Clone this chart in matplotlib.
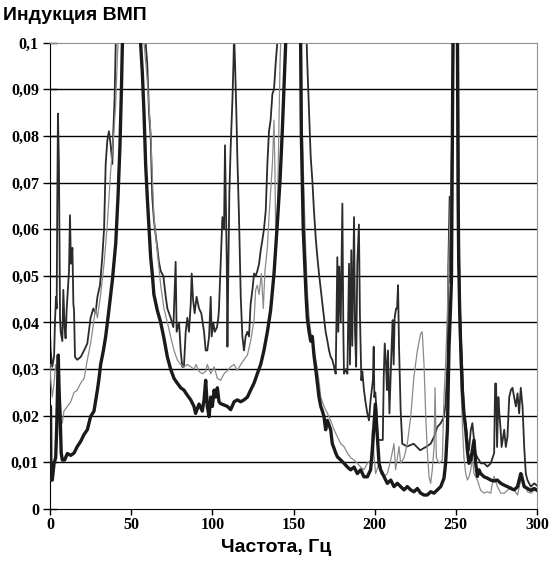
import matplotlib
matplotlib.use("Agg")
import matplotlib.pyplot as plt

# Frequency axis (Hz) and induction values.
# Peaks that leave the plot are given a value above the 0.1 limit.
thin_f = [0, 0.4, 1.4, 2.5, 3.1, 3.7, 4.1, 4.5, 4.9, 5.5, 6.2, 6.6, 7.6, 8.2, 9.0, 9.6,
          10.3, 11.1, 11.7, 12.3, 12.9, 13.8, 14.4, 14.8, 15.4, 16.8, 18.9, 21.0, 23.0,
          25.0, 26.7, 28.1, 29.2, 30.8, 32.2, 33.3, 34.3, 35.3, 36.3, 37.4, 38.4, 39.0,
          39.8, 40.5, 50.0, 58.9, 59.9, 61.0, 62.0, 63.0, 64.0, 65.0, 66.1, 67.1, 68.2,
          69.8, 71.3, 72.3, 74.3, 76.0, 77.4, 78.0, 79.5, 80.5, 81.5, 82.5, 83.6, 84.6,
          85.6, 86.7, 87.3, 88.1, 89.1, 90.3, 91.8, 93.2, 94.9, 95.9, 96.9, 98.0, 99.0,
          99.6, 100.6, 101.5, 102.9, 103.7, 104.1, 105.1, 106.2, 107.2, 107.8, 108.5,
          108.9, 109.3, 109.9, 110.5, 111.3, 112.4, 113.0, 113.4, 114.0, 114.8, 115.4,
          116.4, 117.5, 118.5, 119.5, 120.5, 121.6, 122.6, 123.6, 124.7, 125.7, 126.7,
          127.7, 128.8, 129.8, 130.8, 131.8, 132.9, 133.9, 134.9, 135.9, 137.0, 138.0,
          139.0, 140.0, 150.0, 158.1, 158.5, 159.6, 160.6, 161.6, 162.6, 163.7, 164.7,
          165.7, 166.8, 167.8, 168.8, 169.8, 170.9, 171.9, 172.9, 173.9, 175.0, 176.0,
          177.0, 177.6, 178.2, 179.1, 180.1, 180.7, 181.1, 182.2, 183.2, 184.2, 184.8,
          185.6, 186.2, 187.3, 187.9, 188.6, 189.3, 190.3, 190.9, 191.8, 192.4, 193.4,
          194.5, 195.5, 196.5, 197.5, 198.9, 199.4, 199.8, 200.4, 201.2, 201.8, 203.7,
          205.0, 205.6, 206.2, 207.0, 207.6, 208.2, 209.1, 209.9, 210.5, 211.1, 211.7,
          212.3, 213.2, 213.8, 214.4, 215.0, 216.0, 217.0, 220.0, 224.0, 228.0, 232.0,
          234.5, 236.6, 238.6, 240.7, 242.7, 243.7, 244.8, 245.4, 246.2, 246.8, 247.4,
          248.5, 249.5, 251.4, 251.8, 252.4, 253.0, 254.0, 255.0, 256.1, 257.1, 258.1,
          259.2, 260.2, 261.2, 262.2, 263.3, 264.3, 265.3, 267.4, 269.5, 271.5, 273.6,
          274.2, 274.8, 275.4, 276.2, 276.8, 277.6, 278.2, 279.8, 280.8, 281.8, 282.9,
          283.9, 284.9, 285.9, 287.0, 288.0, 289.0, 290.0, 291.1, 292.1, 293.1, 294.1,
          296.2, 298.3, 300.0]
thin_v = [0.038, 0.034, 0.0305, 0.0326, 0.0405, 0.0455, 0.043, 0.067, 0.0848, 0.074,
          0.0405, 0.038, 0.036, 0.047, 0.039, 0.0366, 0.043, 0.0476, 0.051, 0.063, 0.0526,
          0.056, 0.044, 0.0426, 0.0326, 0.032, 0.0326, 0.034, 0.0355, 0.041, 0.043, 0.042,
          0.0455, 0.048, 0.054, 0.06, 0.074, 0.079, 0.081, 0.078, 0.074, 0.081, 0.088,
          0.1, 0.15, 0.1, 0.0955, 0.085, 0.08, 0.067, 0.062, 0.059, 0.056, 0.053, 0.051,
          0.05, 0.0455, 0.043, 0.041, 0.039, 0.053, 0.038, 0.040, 0.034, 0.0305, 0.0305,
          0.038, 0.041, 0.038, 0.044, 0.0505, 0.045, 0.042, 0.0455, 0.043, 0.042, 0.038,
          0.034, 0.034, 0.037, 0.0455, 0.037, 0.040, 0.038, 0.039, 0.041, 0.043, 0.0526,
          0.0626, 0.06, 0.078, 0.0626, 0.0526, 0.0348, 0.0526, 0.068, 0.0776, 0.088,
          0.0955, 0.102, 0.0955, 0.085, 0.0755, 0.063, 0.0455, 0.037, 0.034, 0.037, 0.038,
          0.037, 0.044, 0.047, 0.0505, 0.050, 0.051, 0.0526, 0.0555, 0.0576, 0.06, 0.064,
          0.074, 0.081, 0.0834, 0.089, 0.09, 0.0955, 0.1, 0.15, 0.1, 0.0955, 0.085, 0.0755,
          0.0705, 0.064, 0.058, 0.054, 0.0505, 0.047, 0.044, 0.041, 0.038, 0.036, 0.034,
          0.0326, 0.032, 0.0305, 0.029, 0.054, 0.038, 0.052, 0.040, 0.0655, 0.038, 0.029,
          0.030, 0.029, 0.0526, 0.031, 0.0555, 0.035, 0.0626, 0.038, 0.0305, 0.0526, 0.061,
          0.042, 0.0276, 0.0295, 0.0255, 0.0226, 0.0205, 0.019, 0.0234, 0.0276, 0.0348,
          0.024, 0.025, 0.021, 0.0148, 0.0148, 0.0148, 0.0284, 0.0355, 0.031, 0.0255,
          0.034, 0.0205, 0.029, 0.0355, 0.0405, 0.031, 0.041, 0.043, 0.043, 0.048, 0.035,
          0.0212, 0.014, 0.0134, 0.014, 0.0126, 0.0134, 0.014, 0.0155, 0.0176, 0.0184,
          0.0198, 0.0226, 0.031, 0.0526, 0.067, 0.0484, 0.074, 0.1, 0.15, 0.1, 0.06,
          0.0455, 0.038, 0.0297, 0.0205, 0.0184, 0.0148, 0.0126, 0.0169, 0.0184, 0.0148,
          0.0119, 0.011, 0.0105, 0.0098, 0.0098, 0.0091, 0.0098, 0.012, 0.0269, 0.0269,
          0.0133, 0.024, 0.0205, 0.017, 0.0133, 0.017, 0.0133, 0.0155, 0.024, 0.0255,
          0.026, 0.024, 0.022, 0.0248, 0.0205, 0.026, 0.022, 0.0134, 0.0076, 0.0062,
          0.0048, 0.0055, 0.005]

gray_f = [0, 0.4, 1.4, 2.5, 3.5, 4.5, 5.5, 6.2, 6.6, 7.6, 8.6, 10.7, 12.8, 14.8, 16.8,
          18.9, 21.0, 23.0, 25.0, 27.1, 28.1, 29.2, 31.2, 33.3, 35.3, 37.4, 39.4, 40.5,
          41.5, 42.0, 50.0, 57.9, 59.9, 62.0, 64.0, 65.0, 68.2, 70.2, 72.3, 74.3, 76.4,
          78.4, 80.5, 82.5, 84.6, 86.7, 88.7, 90.0, 91.8, 93.8, 95.9, 96.9, 99.0, 101.1,
          103.1, 105.1, 107.2, 109.3, 111.3, 113.4, 115.4, 117.5, 119.5, 121.6, 123.6,
          125.7, 126.7, 127.7, 128.8, 130.2, 131.4, 132.4, 133.9, 134.9, 135.9, 137.0,
          138.0, 138.6, 139.0, 140.0, 141.0, 141.7, 142.1, 150.0, 154.8, 155.4, 156.5,
          157.5, 158.5, 159.6, 160.6, 162.6, 164.7, 165.7, 166.8, 168.8, 170.9, 172.9,
          175.0, 177.0, 179.1, 181.1, 183.2, 185.2, 187.3, 189.3, 191.4, 193.4, 195.5,
          197.5, 198.6, 199.6, 200.6, 202.7, 203.7, 205.8, 207.8, 209.9, 211.9, 212.9,
          214.0, 215.0, 216.0, 218.1, 220.1, 222.2, 224.2, 226.3, 228.3, 229.3, 230.4,
          231.4, 232.4, 233.5, 234.5, 235.5, 236.6, 237.2, 238.0, 239.7, 241.7, 242.7,
          243.7, 244.8, 245.8, 246.8, 247.8, 248.5, 249.5, 251.4, 252.2, 253.0, 254.0,
          255.0, 256.1, 257.1, 258.1, 259.2, 260.2, 261.2, 263.3, 265.3, 267.4, 269.5,
          271.5, 272.5, 273.6, 275.6, 277.7, 279.8, 281.8, 283.9, 286.0, 288.0, 290.0,
          291.1, 292.1, 294.1, 296.2, 298.3, 300.0]
gray_v = [0.031, 0.028, 0.024, 0.027, 0.031, 0.030, 0.029, 0.025, 0.018, 0.0185, 0.021,
          0.022, 0.023, 0.025, 0.0255, 0.027, 0.028, 0.032, 0.0355, 0.0405, 0.043, 0.041,
          0.046, 0.0526, 0.061, 0.0726, 0.081, 0.087, 0.097, 0.1, 0.15, 0.1, 0.092, 0.081,
          0.0626, 0.059, 0.048, 0.043, 0.04, 0.037, 0.034, 0.032, 0.031, 0.0305, 0.031,
          0.0305, 0.03, 0.031, 0.0295, 0.029, 0.0295, 0.031, 0.029, 0.0305, 0.028, 0.0276,
          0.029, 0.0297, 0.0305, 0.031, 0.0297, 0.031, 0.032, 0.033, 0.036, 0.0405, 0.047,
          0.048, 0.046, 0.0505, 0.043, 0.051, 0.056, 0.0626, 0.068, 0.074, 0.0834, 0.072,
          0.06, 0.062, 0.081, 0.0955, 0.1, 0.15, 0.1, 0.081, 0.067, 0.056, 0.047, 0.041,
          0.038, 0.034, 0.03, 0.0274, 0.024, 0.022, 0.0205, 0.019, 0.017, 0.0155, 0.014,
          0.0134, 0.012, 0.011, 0.0105, 0.0098, 0.009, 0.0084, 0.0098, 0.0105, 0.017,
          0.0112, 0.0076, 0.0098, 0.0076, 0.0069, 0.0076, 0.0105, 0.014, 0.0084, 0.011,
          0.0134, 0.0098, 0.011, 0.014, 0.0198, 0.0284, 0.034, 0.0376, 0.038, 0.031,
          0.0205, 0.0126, 0.0069, 0.0055, 0.0084, 0.0134, 0.026, 0.011, 0.0098, 0.0105,
          0.024, 0.031, 0.042, 0.056, 0.067, 0.081, 0.1, 0.15, 0.1, 0.038, 0.028, 0.0184,
          0.011, 0.0076, 0.0062, 0.0069, 0.0084, 0.011, 0.0076, 0.0062, 0.004, 0.0034,
          0.0037, 0.0034, 0.0055, 0.007, 0.0048, 0.0034, 0.0034, 0.004, 0.0048, 0.004,
          0.003, 0.0062, 0.0076, 0.0055, 0.0037, 0.0034, 0.004, 0.004]

thick_f = [0, 0.3, 0.6, 1.4, 2.5, 3.5, 4.1, 4.6, 5.1, 5.6, 6.2, 6.9, 7.6, 9.0, 10.7, 12.8,
           14.8, 16.8, 18.9, 21.0, 23.0, 25.0, 27.1, 29.2, 30.2, 31.2, 32.9, 34.3, 36.3,
           38.4, 40.5, 41.9, 43.1, 44.0, 44.6, 50.0, 55.8, 56.9, 57.9, 58.9, 59.9, 61.0,
           62.0, 63.0, 64.0, 66.1, 68.2, 70.2, 72.3, 74.3, 76.4, 78.4, 80.5, 82.5, 84.6,
           86.7, 88.7, 89.7, 91.8, 93.8, 94.9, 95.9, 96.9, 98.0, 99.0, 100.0, 101.1,
           102.1, 103.1, 104.1, 105.1, 107.2, 109.3, 111.3, 113.4, 115.4, 117.5, 119.5,
           121.6, 123.6, 125.7, 127.7, 129.8, 131.8, 133.9, 135.9, 138.0, 140.0, 141.7,
           143.1, 144.1, 145.2, 150.0, 154.4, 154.8, 155.4, 156.0, 156.9, 157.7, 158.5,
           159.6, 160.6, 161.6, 162.6, 163.7, 164.7, 165.7, 166.8, 167.8, 168.8, 169.8,
           170.9, 171.9, 172.9, 173.9, 175.0, 176.0, 177.0, 179.1, 181.1, 183.2, 185.2,
           187.3, 189.3, 191.4, 193.4, 195.5, 197.5, 198.6, 199.6, 200.4, 201.2, 202.7,
           203.7, 205.8, 207.8, 209.9, 211.9, 214.0, 216.0, 218.1, 220.1, 222.2, 224.2,
           226.3, 228.3, 230.4, 232.4, 234.5, 236.6, 238.6, 240.7, 242.7, 243.7, 244.8,
           245.8, 246.5, 247.3, 247.9, 248.3, 249.5, 251.0, 251.4, 251.8, 252.4, 253.0,
           254.0, 255.0, 256.1, 257.1, 258.1, 259.2, 260.2, 261.2, 262.2, 263.3, 264.3,
           265.3, 267.4, 269.5, 271.5, 273.6, 275.6, 277.7, 279.8, 281.8, 283.9, 286.0,
           288.0, 289.0, 290.0, 291.1, 292.1, 294.1, 296.2, 298.3, 300.0]
thick_v = [0.022, 0.022, 0.0062, 0.0062, 0.0098, 0.011, 0.017, 0.025, 0.033, 0.025,
           0.0205, 0.012, 0.0105, 0.0105, 0.0119, 0.0115, 0.012, 0.0134, 0.0145, 0.016,
           0.017, 0.0198, 0.021, 0.0255, 0.028, 0.031, 0.034, 0.037, 0.0427, 0.049, 0.057,
           0.067, 0.078, 0.09, 0.1, 0.15, 0.1, 0.0934, 0.085, 0.074, 0.067, 0.06, 0.054,
           0.0505, 0.046, 0.0426, 0.04, 0.0366, 0.0326, 0.03, 0.028, 0.027, 0.026, 0.0255,
           0.0244, 0.0234, 0.022, 0.0205, 0.0225, 0.021, 0.0234, 0.0276, 0.022, 0.0198,
           0.024, 0.022, 0.0255, 0.024, 0.026, 0.023, 0.0226, 0.0223, 0.022, 0.0213, 0.023,
           0.0234, 0.023, 0.0234, 0.024, 0.0255, 0.027, 0.029, 0.031, 0.034, 0.038, 0.0426,
           0.0505, 0.061, 0.0705, 0.081, 0.09, 0.1, 0.15, 0.1, 0.081, 0.0705, 0.06, 0.0526,
           0.046, 0.041, 0.038, 0.036, 0.037, 0.033, 0.03, 0.027, 0.024, 0.022, 0.021,
           0.0198, 0.017, 0.019, 0.018, 0.017, 0.014, 0.013, 0.012, 0.0112, 0.0105, 0.0098,
           0.009, 0.0084, 0.009, 0.0076, 0.0084, 0.0069, 0.0069, 0.0084, 0.0126, 0.018,
           0.0225, 0.018, 0.0098, 0.0084, 0.0069, 0.0055, 0.0062, 0.0048, 0.0055, 0.0048,
           0.0041, 0.0048, 0.0041, 0.0037, 0.0044, 0.0034, 0.003, 0.003, 0.0037, 0.0034,
           0.0041, 0.0048, 0.0066, 0.0098, 0.017, 0.0348, 0.041, 0.049, 0.08, 0.1, 0.2,
           0.1, 0.067, 0.0526, 0.042, 0.035, 0.0255, 0.0205, 0.017, 0.0126, 0.0098, 0.0105,
           0.0126, 0.0148, 0.0098, 0.007, 0.0084, 0.0076, 0.0069, 0.0066, 0.0062, 0.006,
           0.0062, 0.0055, 0.0051, 0.0048, 0.0044, 0.0041, 0.0048, 0.0062, 0.0076, 0.0062,
           0.0048, 0.0044, 0.004, 0.0044, 0.004]

y_ticks = [0, 0.01, 0.02, 0.03, 0.04, 0.05, 0.06, 0.07, 0.08, 0.09, 0.1]
y_labels = ["0", "0,01", "0,02", "0,03", "0,04", "0,05", "0,06", "0,07", "0,08", "0,09", "0,1"]
x_ticks = [0, 50, 100, 150, 200, 250, 300]

fig = plt.figure(figsize=(5.51, 5.62), dpi=100)
ax = fig.add_axes([50/551, 53/562, 487/551, 466.3/562])

# horizontal grid lines
ax.hlines(y_ticks[1:-1], 0, 300, colors='black', linewidth=1.0, zorder=1)

ax.plot(thin_f, thin_v, color='#2b2b2b', linewidth=1.3, zorder=2)
ax.plot(gray_f, gray_v, color='#8a8a8a', linewidth=0.9, zorder=3)
ax.plot(thick_f, thick_v, color='#1a1a1a', linewidth=2.4, zorder=4)

ax.set_xlim(0, 300)
ax.set_ylim(0, 0.1)
ax.set_xticks(x_ticks)
ax.set_yticks(y_ticks)
ax.set_yticklabels(y_labels)

for lbl in ax.get_xticklabels() + ax.get_yticklabels():
    lbl.set_fontfamily('Liberation Serif')
    lbl.set_fontweight('bold')
    lbl.set_fontsize(11.5)

ax.tick_params(axis='y', direction='inout', length=10, width=1, pad=3)
ax.tick_params(axis='x', direction='out', length=4, width=1, pad=2)

ax.spines['left'].set_color('black')
ax.spines['bottom'].set_color('black')
ax.spines['top'].set_color('#909090')
ax.spines['right'].set_color('#909090')

fig.text(3/551, 1 - 15/562, "Индукция ВМП", fontfamily='Liberation Sans', fontweight='bold',
         fontsize=14, va='center', ha='left')
fig.text(276/551, 1 - 548/562, "Частота, Гц", fontfamily='Liberation Sans', fontweight='bold',
         fontsize=14, va='center', ha='center')

fig.savefig("out.png", dpi=100)
